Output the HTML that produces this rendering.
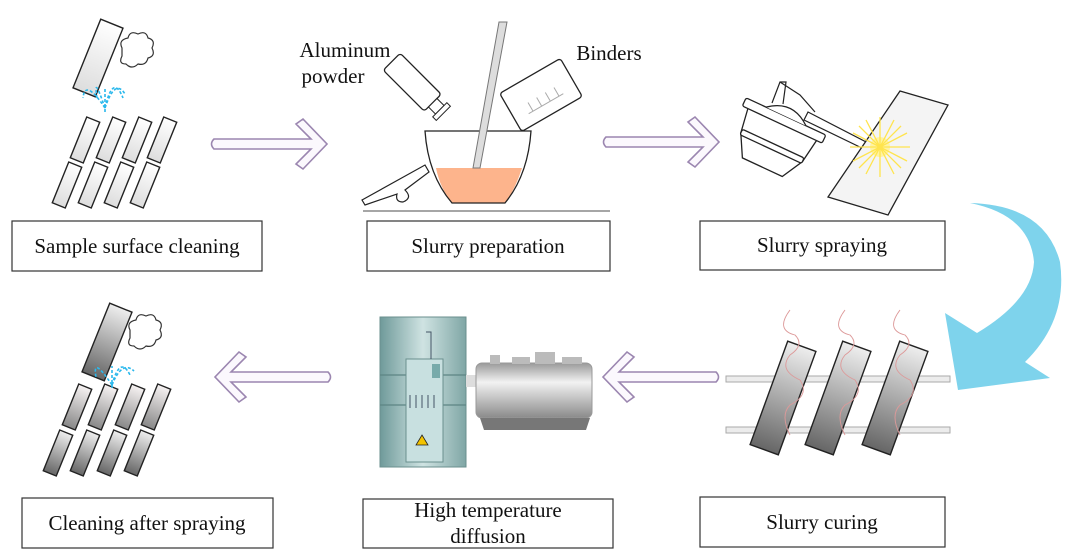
<!DOCTYPE html>
<html><head><meta charset="utf-8"><style>
html,body{margin:0;padding:0;background:#fff;}
svg{display:block;}
text{font-family:"Liberation Serif",serif;fill:#111;}
</style></head><body>
<svg width="1067" height="558" viewBox="0 0 1067 558" xmlns="http://www.w3.org/2000/svg">
<defs>
<linearGradient id="tw" x1="0" y1="0" x2="0" y2="1"><stop offset="0" stop-color="#fff"/><stop offset="1" stop-color="#ddd"/></linearGradient>
<linearGradient id="tg" x1="0" y1="0" x2="0" y2="1"><stop offset="0" stop-color="#eee"/><stop offset="1" stop-color="#666"/></linearGradient>
<linearGradient id="tg2" x1="0" y1="0" x2="0" y2="1"><stop offset="0" stop-color="#f6f2f2"/><stop offset="1" stop-color="#888"/></linearGradient>
<linearGradient id="cyl" x1="0" y1="0" x2="1" y2="0"><stop offset="0" stop-color="#6f9a9a"/><stop offset="0.5" stop-color="#cfe3e2"/><stop offset="1" stop-color="#7fa6a5"/></linearGradient>
<linearGradient id="tank" x1="0" y1="0" x2="0" y2="1"><stop offset="0" stop-color="#999"/><stop offset="0.35" stop-color="#f2f2f2"/><stop offset="1" stop-color="#8a8a8a"/></linearGradient>
<g id="arrR"><path d="M0,-5 L97,-5 L82,-20 L89,-25 L113,0 L89,25 L82,20 L97,5 L0,5 Q-5,0 0,-5 Z" fill="#fbf8fd" stroke="#9b86b0" stroke-width="1.6"/></g>
</defs>

<!-- boxes -->
<g fill="#fff" stroke="#333" stroke-width="1.2">
<rect x="12" y="221" width="250" height="50"/>
<rect x="367" y="221" width="243" height="50"/>
<rect x="700" y="221" width="245" height="49"/>
<rect x="22" y="498" width="251" height="50"/>
<rect x="363" y="499" width="250" height="49"/>
<rect x="700" y="497" width="245" height="50"/>
</g>
<g font-size="21" text-anchor="middle">
<text x="137" y="253">Sample surface cleaning</text>
<text x="488" y="253">Slurry preparation</text>
<text x="822" y="252">Slurry spraying</text>
<text x="147" y="530">Cleaning after spraying</text>
<text x="488" y="517">High temperature</text>
<text x="488" y="543">diffusion</text>
<text x="822" y="529">Slurry curing</text>
<text x="345" y="57">Aluminum</text>
<text x="333" y="83">powder</text>
<text x="609" y="60">Binders</text>
</g>

<!-- arrows -->
<use href="#arrR" transform="translate(214,144)"/>
<use href="#arrR" transform="translate(606,142)"/>
<use href="#arrR" transform="translate(328,377) scale(-1,1)"/>
<use href="#arrR" transform="translate(716,377) scale(-1,1)"/>

<!-- blue curved arrow -->
<path d="M970,203 Q1045,205 1060,262 Q1068,320 1025,362 L1050,378 L958,390 L945,313 L977,333 Q1032,300 1034,262 Q1030,215 970,203 Z" fill="#7ed3ec"/>

<!-- top-left cleaning -->
<g stroke="#222" stroke-width="1.4">
<rect x="-12" y="-37" width="24" height="74" fill="url(#tw)" transform="translate(98,58) rotate(22)"/>
<g fill="url(#tw)">
<rect x="-7" y="-22" width="14" height="44" transform="translate(85,140) rotate(22)"/>
<rect x="-7" y="-22" width="14" height="44" transform="translate(111,140) rotate(22)"/>
<rect x="-7" y="-22" width="14" height="44" transform="translate(137,140) rotate(22)"/>
<rect x="-7" y="-22" width="14" height="44" transform="translate(162,140) rotate(22)"/>
<rect x="-7" y="-22" width="14" height="44" transform="translate(67,185) rotate(22)"/>
<rect x="-7" y="-22" width="14" height="44" transform="translate(93,185) rotate(22)"/>
<rect x="-7" y="-22" width="14" height="44" transform="translate(119,185) rotate(22)"/>
<rect x="-7" y="-22" width="14" height="44" transform="translate(145,185) rotate(22)"/>
</g>
</g>
<path d="M122,48 q-4,-8 6,-10 q2,-8 10,-4 q8,-4 10,4 q8,2 4,10 q4,8 -4,10 q-2,8 -10,6 q-6,6 -12,0 q-8,0 -4,-8 z" fill="#fff" stroke="#333" stroke-width="1.2"/>
<g stroke="#2ab8ec" stroke-width="1.6" fill="none" stroke-dasharray="3,2">
<path d="M105,108 q-20,-30 -22,-10"/><path d="M105,108 q-12,-35 -8,-10"/><path d="M105,108 q8,-35 18,-10"/><path d="M105,108 q10,-30 20,-14"/><path d="M105,112 v-25"/>
</g>

<!-- bottom-left cleaning -->
<g stroke="#222" stroke-width="1.4">
<rect x="-12" y="-37" width="24" height="74" fill="url(#tg)" transform="translate(107,342) rotate(22)"/>
<g fill="url(#tg2)">
<rect x="-7" y="-22" width="14" height="44" transform="translate(77,407) rotate(22)"/>
<rect x="-7" y="-22" width="14" height="44" transform="translate(103,407) rotate(22)"/>
<rect x="-7" y="-22" width="14" height="44" transform="translate(130,407) rotate(22)"/>
<rect x="-7" y="-22" width="14" height="44" transform="translate(156,407) rotate(22)"/>
</g>
<g fill="url(#tg)">
<rect x="-7" y="-22" width="14" height="44" transform="translate(58,453) rotate(22)"/>
<rect x="-7" y="-22" width="14" height="44" transform="translate(85,453) rotate(22)"/>
<rect x="-7" y="-22" width="14" height="44" transform="translate(112,453) rotate(22)"/>
<rect x="-7" y="-22" width="14" height="44" transform="translate(139,453) rotate(22)"/>
</g>
</g>
<path d="M130,330 q-4,-8 6,-10 q2,-8 10,-4 q8,-4 10,4 q8,2 4,10 q4,8 -4,10 q-2,8 -10,6 q-6,6 -12,0 q-8,0 -4,-8 z" fill="#fff" stroke="#333" stroke-width="1.2"/>
<g stroke="#2ab8ec" stroke-width="1.6" fill="none" stroke-dasharray="3,2">
<path d="M112,385 q-20,-30 -16,-8"/><path d="M112,385 q8,-30 18,-10"/><path d="M112,385 q10,-25 22,-14"/><path d="M112,388 v-22"/>
</g>

<!-- slurry preparation -->
<line x1="363" y1="211" x2="610" y2="211" stroke="#888" stroke-width="1.5"/>
<path d="M436,168 L522,168 Q515,190 505,203 L452,203 Q440,188 436,168 Z" fill="#fdb48c"/>
<path d="M425,131 L531,131 Q528,175 505,203 L452,203 Q428,175 425,131 Z" fill="none" stroke="#222" stroke-width="1.3"/>
<path d="M499,22 L507,22 L480,168 L473,168 Z" fill="#ddd" stroke="#777" stroke-width="1"/>
<g transform="translate(420,90) rotate(45)"><rect x="-40" y="-12" width="58" height="24" rx="3" fill="#fff" stroke="#222" stroke-width="1.3"/><rect x="18" y="-6" width="10" height="12" fill="#fff" stroke="#222"/><rect x="28" y="-10" width="5" height="20" fill="#fff" stroke="#222"/></g>
<g transform="translate(541,95) rotate(-30)"><rect x="-35" y="-22" width="70" height="44" rx="3" fill="#fff" stroke="#222" stroke-width="1.3"/><path d="M-20,10 h40 M-15,10 v-10 M-5,10 v-10 M5,10 v-10 M15,10 v-10" stroke="#aaa"/></g>
<path d="M362,200 L425,165 L429,172 L405,190 q8,8 -2,12 q-8,0 -6,-8 L365,205 Z" fill="#fff" stroke="#222" stroke-width="1.2"/>

<!-- spraying gun -->
<g transform="translate(775,140) rotate(25)" stroke="#222" stroke-width="1.3" fill="#fff">
<path d="M-38,-18 L38,-18 L34,8 L22,30 L-22,30 L-34,8 Z"/>
<rect x="-44" y="-26" width="88" height="9" rx="2"/>
<rect x="-34" y="4" width="68" height="6" rx="2"/>
<path d="M-22,-26 Q0,-44 22,-26" fill="#fff"/>
</g>
<path d="M772,103 L780,82 L786,82 L783,104" fill="#fff" stroke="#222" stroke-width="1.2"/>
<path d="M780,82 L800,95 L815,112" fill="none" stroke="#222" stroke-width="1.2"/>
<path d="M808,112 L870,144 L866,150 L804,120 Z" fill="#fff" stroke="#222" stroke-width="1.2"/>
<polygon points="900,91 948,105 888,215 828,197" fill="#f4f4f4" stroke="#222" stroke-width="1.3"/>
<g stroke="#ffe44d" stroke-width="1.3">
<circle cx="880" cy="147" r="10" fill="#fff3a0" stroke="none"/>
<path d="M850,147h60 M880,117v60 M859,126l42,42 M901,126l-42,42 M866,120l28,54 M894,120l-28,54 M853,133l54,28 M853,161l54,-28"/>
</g>

<!-- curing -->
<rect x="726" y="376" width="224" height="6" fill="#ececec" stroke="#aaa"/>
<rect x="726" y="427" width="224" height="6" fill="#ececec" stroke="#aaa"/>
<g stroke="#222" stroke-width="1.4" fill="url(#tg)">
<rect x="-15" y="-55" width="30" height="110" transform="translate(783,398) rotate(20)"/>
<rect x="-15" y="-55" width="30" height="110" transform="translate(838,398) rotate(20)"/>
<rect x="-15" y="-55" width="30" height="110" transform="translate(895,398) rotate(20)"/>
</g>
<g stroke="#d99" stroke-width="0.9" fill="none">
<path d="M790,310 q-15,20 5,25 q10,10 -5,20 q-12,15 10,25 q10,15 -10,25 q-10,10 0,30"/>
<path d="M845,310 q-15,20 5,25 q10,10 -5,20 q-12,15 10,25 q10,15 -10,25 q-10,10 0,30"/>
<path d="M900,310 q-15,20 5,25 q10,10 -5,20 q-12,15 10,25 q10,15 -10,25 q-10,10 0,30"/>
</g>

<!-- furnace -->
<rect x="380" y="317" width="86" height="150" fill="url(#cyl)" stroke="#6a8f8e"/>
<line x1="380" y1="375" x2="466" y2="375" stroke="#5d8584" stroke-width="1.3"/>
<line x1="380" y1="405" x2="466" y2="405" stroke="#5d8584" stroke-width="1.3"/>
<rect x="406" y="359" width="37" height="103" fill="#c8e0e0" stroke="#6a8f8e"/>
<rect x="432" y="364" width="8" height="14" fill="#7aa"/>
<path d="M431,359 V332 L426,332" stroke="#456" fill="none"/>
<polygon points="422,435 428,445 416,445" fill="#f3c300" stroke="#222" stroke-width="0.8"/>
<g stroke="#456"><line x1="410" y1="395" x2="410" y2="408"/><line x1="416" y1="395" x2="416" y2="408"/><line x1="422" y1="395" x2="422" y2="408"/><line x1="428" y1="395" x2="428" y2="408"/><line x1="434" y1="395" x2="434" y2="408"/></g>
<rect x="466" y="375" width="12" height="12" fill="#ddd"/>
<rect x="476" y="363" width="116" height="55" rx="6" fill="url(#tank)" stroke="#999"/>
<polygon points="480,418 590,418 586,430 484,430" fill="#777"/>
<g fill="#bbb"><rect x="490" y="355" width="10" height="9"/><rect x="512" y="357" width="18" height="7"/><rect x="535" y="352" width="20" height="12"/><rect x="562" y="357" width="20" height="7"/></g>
</svg>
</body></html>
